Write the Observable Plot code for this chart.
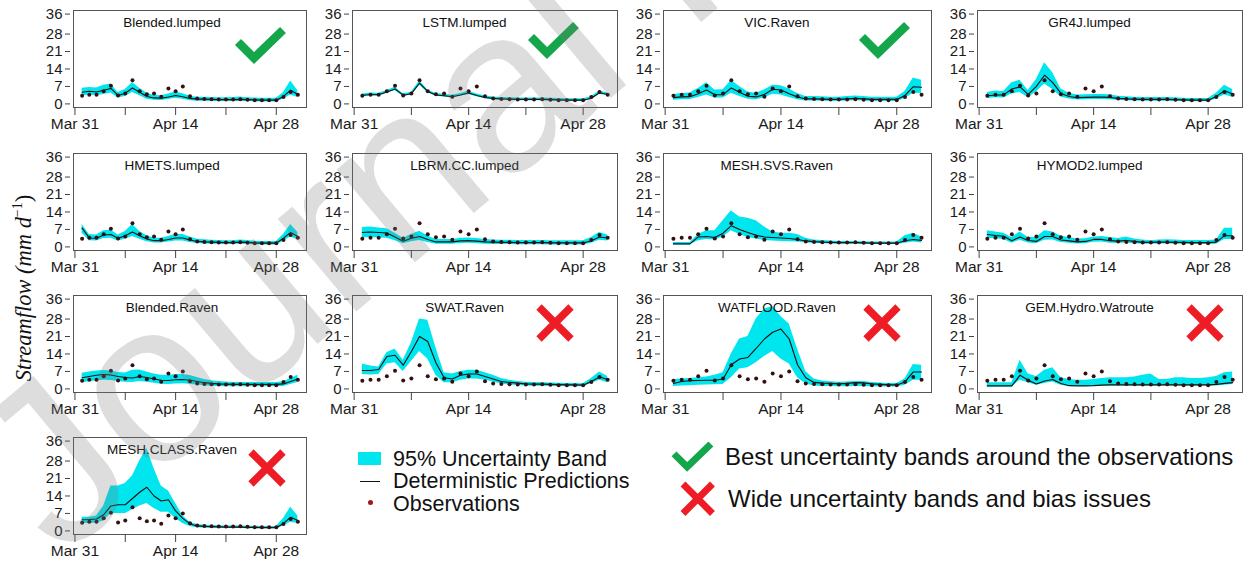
<!DOCTYPE html>
<html>
<head>
<meta charset="utf-8">
<script src="https://cdn.jsdelivr.net/npm/d3@7"></script>
<script src="https://cdn.jsdelivr.net/npm/@observablehq/plot@0.6"></script>
<style>
  body { margin: 0; background: #fff; }
  #fig { position: relative; width: 1246px; height: 563px; overflow: hidden;
         font-family: "Liberation Sans", Arial, sans-serif; color: #111; }
  .panel { position: absolute; }
  .legend-text { position: absolute; white-space: nowrap; line-height: 1; }
</style>
</head>
<body>
<div id="fig"></div>
<script>
// Daily streamflow (mm/d), Apr 1 – May 1
const observed = [3.3,3.7,3.7,5.1,7.3,3.4,4.2,9.5,5.1,3.9,4.2,2.9,6.2,5.1,7.0,3.1,2.2,2.0,1.9,1.8,1.8,1.8,1.9,1.7,1.5,1.5,1.5,1.5,2.8,4.8,3.7];

const blendedLumpedDet = [4.7,5.1,4.8,5.5,6.2,3.4,4.3,6.4,4.7,3.0,2.4,2.3,2.8,3.4,2.9,2.2,1.9,1.9,1.8,1.7,1.7,1.7,1.8,1.7,1.6,1.5,1.5,1.5,3.0,5.5,3.8];
const blendedLumpedLo  = [3.2,3.6,3.4,3.8,4.4,2.4,3.0,4.6,3.3,1.9,1.5,1.4,1.8,2.3,1.9,1.3,1.1,1.1,1.0,1.0,1.0,1.0,1.1,1.0,0.9,0.8,0.8,0.8,2.0,3.6,2.6];
const blendedLumpedHi  = [6.3,6.6,6.4,7.5,8.0,4.6,5.8,8.6,6.3,4.3,3.4,3.3,4.0,4.8,4.1,3.1,2.7,2.7,2.6,2.5,2.5,2.6,2.8,2.5,2.4,2.3,2.3,2.3,4.5,9.2,5.3];

const lstmDet = [3.4,3.8,3.7,4.8,6.0,3.5,4.1,8.3,5.0,3.6,3.3,2.9,3.6,4.4,3.4,2.6,2.2,2.0,1.9,1.8,1.8,1.8,1.8,1.7,1.6,1.5,1.5,1.5,2.3,4.5,3.8];
const lstmLo  = [2.9,3.3,3.2,4.3,5.4,3.0,3.6,7.5,4.5,3.1,2.8,2.4,3.1,3.8,2.9,2.1,1.7,1.5,1.4,1.3,1.3,1.3,1.3,1.2,1.1,1.0,1.0,1.0,1.8,3.9,3.3];
const lstmHi  = [4.0,4.4,4.3,5.4,6.7,4.1,4.7,9.2,5.6,4.2,3.9,3.5,4.2,5.1,4.0,3.2,2.8,2.6,2.5,2.4,2.4,2.4,2.4,2.3,2.2,2.1,2.1,2.1,2.9,5.2,4.4];

const vicDet = [2.5,2.8,2.9,4.1,5.6,3.7,3.7,6.4,4.7,3.1,2.8,3.8,5.9,5.6,4.1,2.8,2.0,2.0,1.9,1.8,1.8,2.0,2.2,2.0,1.8,1.8,1.8,1.8,3.4,6.9,6.7];
const vicLo  = [1.5,1.7,1.8,2.6,3.6,2.4,2.4,4.3,3.0,1.9,1.7,2.4,3.9,3.6,2.6,1.7,1.2,1.2,1.1,1.0,1.0,1.2,1.3,1.2,1.0,1.0,1.0,1.0,2.2,4.3,4.2];
const vicHi  = [3.8,4.2,4.4,6.2,8.5,5.6,5.7,9.4,7.0,4.8,4.3,5.6,7.5,7.3,6.0,4.2,3.0,3.0,2.9,2.7,2.7,3.0,3.2,3.0,2.7,2.7,2.7,2.7,5.0,10.4,9.5];

const gr4jDet = [3.3,3.6,3.6,6.0,6.8,3.8,7.0,11.5,8.5,4.2,3.0,2.5,2.6,2.7,2.7,2.6,2.2,2.0,1.9,1.8,1.8,1.8,1.8,1.7,1.6,1.5,1.5,1.5,3.0,5.3,4.0];
const gr4jLo  = [2.2,2.5,2.4,4.0,4.6,2.5,4.8,8.0,5.8,2.8,2.0,1.6,1.7,1.8,1.8,1.7,1.4,1.3,1.2,1.1,1.1,1.1,1.1,1.0,1.0,0.9,0.9,0.9,2.0,3.6,2.7];
const gr4jHi  = [4.6,5.2,5.0,8.5,9.5,5.4,9.8,16.5,12.5,6.0,4.3,3.6,3.7,3.8,3.8,3.7,3.1,2.9,2.7,2.6,2.6,2.6,2.6,2.5,2.3,2.2,2.2,2.2,4.3,7.5,5.8];

const hmetsDet = [7.5,3.6,3.5,4.8,5.0,3.5,4.5,6.0,4.5,3.2,2.5,2.5,3.0,3.6,3.6,2.8,2.2,2.0,1.9,1.8,1.7,1.7,1.9,1.8,1.6,1.5,1.5,1.5,3.5,5.8,4.2];
const hmetsLo  = [5.5,2.5,2.4,3.4,3.5,2.4,3.1,4.2,3.1,2.1,1.6,1.6,2.0,2.4,2.4,1.8,1.4,1.2,1.1,1.0,1.0,1.0,1.1,1.0,0.9,0.8,0.8,0.8,2.3,4.0,2.9];
const hmetsHi  = [9.0,5.0,4.8,6.5,6.8,4.8,6.2,9.0,6.2,4.5,3.5,3.5,4.2,5.0,5.0,4.0,3.1,2.9,2.7,2.6,2.5,2.5,2.8,2.6,2.3,2.2,2.2,2.2,5.0,9.0,5.8];

const lbrmDet = [5.8,6.0,5.8,5.6,4.0,2.3,3.5,4.2,3.0,2.0,2.0,2.0,2.4,2.5,2.3,2.0,1.9,1.8,1.8,1.7,1.7,1.7,1.7,1.6,1.6,1.6,1.6,1.6,2.5,4.0,3.6];
const lbrmLo  = [3.6,3.8,3.6,3.5,2.5,1.3,2.1,2.6,1.8,1.1,1.1,1.1,1.4,1.5,1.3,1.1,1.0,1.0,1.0,0.9,0.9,0.9,0.9,0.8,0.8,0.8,0.8,0.8,1.5,2.7,2.4];
const lbrmHi  = [7.8,8.0,7.6,7.3,5.5,3.5,5.0,6.3,4.4,3.0,3.0,3.0,3.5,3.6,3.4,3.0,2.8,2.7,2.7,2.6,2.6,2.6,2.6,2.5,2.5,2.5,2.5,2.5,3.8,5.8,4.8];

const meshSvsDet = [1.2,1.2,1.2,4.0,4.2,3.8,5.5,8.5,7.0,5.8,4.7,4.0,3.8,3.6,3.4,3.0,2.4,2.1,1.9,1.8,1.7,1.7,1.7,1.6,1.5,1.5,1.5,1.5,2.5,3.0,2.6];
const meshSvsLo  = [0.8,0.8,0.8,2.5,3.0,2.8,4.0,6.5,5.0,3.8,3.2,2.6,2.4,2.2,2.1,2.0,1.6,1.4,1.3,1.2,1.1,1.1,1.1,1.0,1.0,1.0,1.0,1.0,1.5,2.0,1.6];
const meshSvsHi  = [1.8,1.8,1.8,5.0,6.5,6.5,10.5,14.5,12.0,11.5,10.5,8.0,6.0,5.5,5.5,5.0,3.5,2.8,2.6,2.4,2.2,2.2,2.2,2.1,2.0,2.0,2.0,2.0,4.5,5.5,4.0];

const hymodDet = [5.0,4.6,4.3,2.5,4.0,2.6,2.2,4.2,4.2,2.8,2.4,2.0,2.2,3.0,3.0,2.5,2.3,2.6,2.2,1.8,1.8,1.9,1.9,1.8,1.8,1.7,1.7,1.7,1.9,4.5,4.5];
const hymodLo  = [3.5,3.3,3.0,1.5,2.7,1.6,1.3,2.7,2.8,1.8,1.5,1.2,1.3,1.9,2.0,1.5,1.4,1.6,1.3,1.1,1.1,1.2,1.2,1.1,1.1,1.0,1.0,1.0,1.1,3.0,3.0];
const hymodHi  = [6.5,6.0,5.5,3.8,6.0,3.8,3.8,6.5,6.0,4.3,3.8,3.2,3.3,4.0,4.2,3.8,3.4,4.0,3.2,2.8,2.5,2.8,2.9,2.8,2.6,2.6,2.6,2.6,2.8,7.5,7.5];

const blendedRavenDet = [4.5,5.0,5.5,5.8,5.6,5.0,4.6,4.4,5.0,4.6,4.0,3.5,3.4,3.7,3.8,3.5,3.0,2.5,2.2,2.0,1.9,1.8,1.8,1.8,1.8,1.8,1.8,1.8,2.0,3.0,4.0];
const blendedRavenLo  = [2.5,2.9,3.3,3.5,3.4,3.0,2.7,2.6,3.0,2.7,2.3,1.9,1.8,2.0,2.1,1.9,1.6,1.3,1.1,1.0,0.9,0.9,0.9,0.9,0.9,0.9,0.9,0.9,1.0,1.8,2.6];
const blendedRavenHi  = [6.3,6.8,7.2,7.4,7.2,6.6,6.4,7.5,7.6,6.8,6.0,5.5,5.4,5.8,5.8,5.4,4.6,3.8,3.3,3.0,2.8,2.6,2.6,2.6,2.6,2.6,2.6,2.6,2.9,4.2,5.5];

const swatDet = [7.4,7.4,7.8,13.0,13.5,9.5,15.0,21.0,19.0,10.5,4.5,4.0,5.5,6.0,6.0,5.0,4.0,3.0,2.6,2.3,2.0,1.9,1.9,1.8,1.7,1.6,1.6,1.5,3.0,4.8,3.8];
const swatLo  = [5.8,5.6,5.8,10.0,10.5,7.0,11.0,15.0,12.0,5.5,2.5,2.5,3.5,4.0,4.0,3.5,2.8,2.0,1.6,1.4,1.2,1.1,1.1,1.0,1.0,0.9,0.9,0.9,2.2,3.5,2.5];
const swatHi  = [10.0,9.2,8.8,14.5,16.0,11.5,18.5,28.0,27.5,16.5,6.5,6.0,7.0,7.5,7.5,6.5,5.5,4.2,3.5,3.0,2.7,2.6,2.5,2.4,2.3,2.2,2.2,2.1,4.2,6.8,5.0];

const watfloodDet = [2.2,3.0,3.3,3.4,3.5,3.5,4.0,9.7,12.0,12.6,16.2,20.0,22.7,24.0,20.0,9.7,4.5,2.6,2.3,2.2,2.0,2.2,2.5,2.4,2.0,1.8,1.6,1.6,2.8,6.8,6.8];
const watfloodLo  = [1.0,1.2,1.3,1.5,1.6,1.7,1.8,4.5,8.0,8.5,10.5,13.0,15.0,12.0,10.0,4.5,2.0,1.2,1.0,1.0,0.9,0.9,1.0,1.0,0.9,0.8,0.8,0.8,1.5,3.5,3.5];
const watfloodHi  = [3.8,4.0,4.2,4.5,4.8,5.5,6.5,14.0,20.0,21.0,28.0,32.0,33.0,29.0,26.0,16.0,7.0,4.0,3.2,2.9,2.7,2.8,3.0,3.0,2.6,2.4,2.2,2.2,4.0,9.8,9.5];

const gemDet = [1.2,1.2,1.2,1.2,5.5,3.5,2.0,3.2,3.8,2.2,1.3,1.2,1.2,1.3,1.5,1.6,1.6,1.6,1.6,1.6,1.6,1.6,1.6,1.6,1.6,1.6,1.6,1.6,1.8,2.2,2.5];
const gemLo  = [0.8,0.8,0.8,0.8,3.5,2.5,1.5,2.2,2.8,1.5,1.0,1.0,1.0,1.0,1.2,1.2,1.2,1.2,1.2,1.2,1.2,1.2,1.2,1.2,1.2,1.2,1.2,1.2,1.2,1.5,1.8];
const gemHi  = [2.5,2.5,2.5,2.5,11.5,6.0,5.0,7.5,8.5,4.5,3.8,3.5,3.5,3.8,4.2,4.5,4.5,4.5,4.8,5.5,6.0,3.8,3.8,4.5,4.5,4.2,4.2,4.5,5.0,6.5,6.8];

const meshClassDet = [4.5,4.6,4.8,6.5,10.0,10.5,10.5,13.0,15.5,17.5,14.0,12.0,12.5,8.0,5.0,2.8,2.0,1.8,1.7,1.6,1.5,1.5,1.5,1.4,1.4,1.3,1.3,1.3,3.0,5.5,4.2];
const meshClassLo  = [3.0,3.0,3.2,4.0,7.0,7.0,7.0,8.5,10.0,11.0,9.0,7.5,7.5,5.0,3.0,1.8,1.3,1.2,1.1,1.1,1.0,1.0,1.0,0.9,0.9,0.9,0.9,0.9,2.0,3.5,3.0];
const meshClassHi  = [5.5,5.5,6.0,10.0,18.0,18.0,19.0,22.0,28.0,33.0,25.0,18.0,16.0,11.0,6.0,3.5,2.6,2.3,2.2,2.1,2.0,2.0,2.0,1.9,1.9,1.8,1.8,1.8,5.0,9.5,6.0];

const modelNames = ["Blended.lumped","LSTM.lumped","VIC.Raven","GR4J.lumped",
  "HMETS.lumped","LBRM.CC.lumped","MESH.SVS.Raven","HYMOD2.lumped",
  "Blended.Raven","SWAT.Raven","WATFLOOD.Raven","GEM.Hydro.Watroute","MESH.CLASS.Raven"];
const detSeries = [blendedLumpedDet,lstmDet,vicDet,gr4jDet,hmetsDet,lbrmDet,meshSvsDet,hymodDet,blendedRavenDet,swatDet,watfloodDet,gemDet,meshClassDet];
const loSeries  = [blendedLumpedLo,lstmLo,vicLo,gr4jLo,hmetsLo,lbrmLo,meshSvsLo,hymodLo,blendedRavenLo,swatLo,watfloodLo,gemLo,meshClassLo];
const hiSeries  = [blendedLumpedHi,lstmHi,vicHi,gr4jHi,hmetsHi,lbrmHi,meshSvsHi,hymodHi,blendedRavenHi,swatHi,watfloodHi,gemHi,meshClassHi];

const yTicks = [0,7,14,21,28,36];
const xTickDays = ["2019-03-31","2019-04-07","2019-04-14","2019-04-21","2019-04-28"];
const xTickLabels = ["Mar 31","Apr 14","Apr 28"];

// ---- layout ----
const fig = document.getElementById("fig");
const FONT = '"Liberation Sans", Arial, sans-serif';
const BAND = "#00e6ef";
const days = d3.utcDay.range(new Date(Date.UTC(2019,3,1)), new Date(Date.UTC(2019,4,2)));
const xDomain = [new Date(Date.UTC(2019,2,30,19,12)), new Date(Date.UTC(2019,4,2,4,48))];
const titleAt = new Date(Date.UTC(2019,3,13,12));
const tickDates = xTickDays.map(s => new Date(s + "T00:00Z"));
const fmt = d3.utcFormat("%b %d");

const colFrames = [[73,233],[352,265],[663,268],[977,265]];
const rowTops = [10,153,295,437];
const frameH = 97;
const mL = 50, mR = 4, mT = 8, mB = 32;

modelNames.forEach((name, i) => {
  const [fx, fw] = colFrames[i % 4];
  const ft = rowTops[Math.floor(i / 4)];
  const rows = days.map((d, k) => ({date: d, det: detSeries[i][k], lo: loSeries[i][k], hi: hiSeries[i][k], obs: observed[k]}));
  const chart = Plot.plot({
    width: fw + mL + mR, height: frameH + mT + mB,
    marginLeft: mL, marginRight: mR, marginTop: mT, marginBottom: mB,
    x: {type: "utc", domain: xDomain},
    y: {domain: [-1.44, 37.44]},
    style: {fontFamily: FONT, fontSize: "15px", color: "#1a1a1a", background: "transparent", overflow: "visible"},
    marks: [
      Plot.areaY(rows, {x: "date", y1: "lo", y2: "hi", fill: BAND}),
      Plot.lineY(rows, {x: "date", y: "det", stroke: "#111", strokeWidth: 1.1}),
      Plot.dot(rows, {x: "date", y: "obs", r: 2, fill: "#361010", stroke: null}),
      Plot.frame({stroke: "#555", strokeWidth: 1}),
      Plot.axisY({ticks: yTicks, tickSize: 5, tickPadding: 3, dx: -3, fontSize: 15, label: null, stroke: "#444"}),
      Plot.axisX({ticks: tickDates, tickSize: 8, tickPadding: 2, fontSize: 15.5, label: null, stroke: "#444",
                  tickFormat: d => xTickLabels.includes(fmt(d)) ? fmt(d) : ""}),
      Plot.text([name], {x: () => titleAt, frameAnchor: "top", dy: 7, text: d => d, fontSize: 13.5, fill: "#111"})
    ]
  });
  chart.classList.add("panel");
  chart.style.left = (fx - mL) + "px";
  chart.style.top = (ft - mT) + "px";
  fig.appendChild(chart);
});

// ---- legend ----
function addDiv(css, text) {
  const el = document.createElement("div");
  el.className = "legend-text";
  Object.assign(el.style, css);
  if (text) el.textContent = text;
  fig.appendChild(el);
  return el;
}
addDiv({left: "358px", top: "452px", width: "23px", height: "13px", background: BAND});
addDiv({left: "393px", top: "449px", fontSize: "21.5px"}, "95% Uncertainty Band");
addDiv({left: "360px", top: "481px", width: "20px", height: "0", borderTop: "1.3px solid #111"});
addDiv({left: "393px", top: "471px", fontSize: "21.5px"}, "Deterministic Predictions");
addDiv({left: "368px", top: "500px", width: "5px", height: "5px", borderRadius: "50%", background: "#a01818"});
addDiv({left: "393px", top: "494px", fontSize: "21.5px"}, "Observations");
addDiv({left: "725px", top: "445px", fontSize: "24px"}, "Best uncertainty bands around the observations");
addDiv({left: "728px", top: "487px", fontSize: "24px"}, "Wide uncertainty bands and bias issues");

// ---- overlay: axis title, verdict marks, watermark ----
const svg = d3.create("svg").attr("width", 1246).attr("height", 563)
  .style("position", "absolute").style("left", 0).style("top", 0).style("pointer-events", "none");

const ylab = svg.append("text")
  .attr("transform", "translate(31,288) rotate(-90)")
  .attr("text-anchor", "middle")
  .attr("font-family", '"Liberation Serif", "DejaVu Serif", serif')
  .attr("font-style", "italic").attr("font-size", 22.5).attr("fill", "#111");
ylab.append("tspan").text("Streamflow (mm d");
ylab.append("tspan").attr("font-size", 14).attr("dy", -9).attr("font-style", "normal").text("\u22121");
ylab.append("tspan").attr("dy", 9).attr("font-style", "normal").text(")");

const GREEN = "#14a64a", RED = "#ee1c24";
function check(x, y, s) {
  svg.append("path")
    .attr("d", `M${x},${y + 12 * s} L${x + 16 * s},${y + 28 * s} L${x + 45 * s},${y}`)
    .attr("fill", "none").attr("stroke", GREEN).attr("stroke-width", 8.5 * s).attr("stroke-linejoin", "miter");
}
function cross(x, y, s) {
  svg.append("path")
    .attr("d", `M${x},${y} L${x + 32 * s},${y + 32 * s} M${x + 32 * s},${y} L${x},${y + 32 * s}`)
    .attr("fill", "none").attr("stroke", RED).attr("stroke-width", 7.5 * s);
}
check(238, 30, 1);
check(531, 25, 1);
check(862, 25, 1);
cross(539, 307, 1);
cross(866, 307, 1);
cross(1189, 307, 1);
cross(251, 452, 1);
check(674, 444, 0.82);
cross(683, 484, 0.92);

svg.append("text")
  .attr("transform", "translate(60,560) rotate(-40)")
  .attr("font-family", FONT).attr("font-size", 230)
  .attr("fill", "rgb(120,120,120)").attr("fill-opacity", 0.25)
  .text("Journal Pre-proof");

fig.appendChild(svg.node());
</script>
</body>
</html>
